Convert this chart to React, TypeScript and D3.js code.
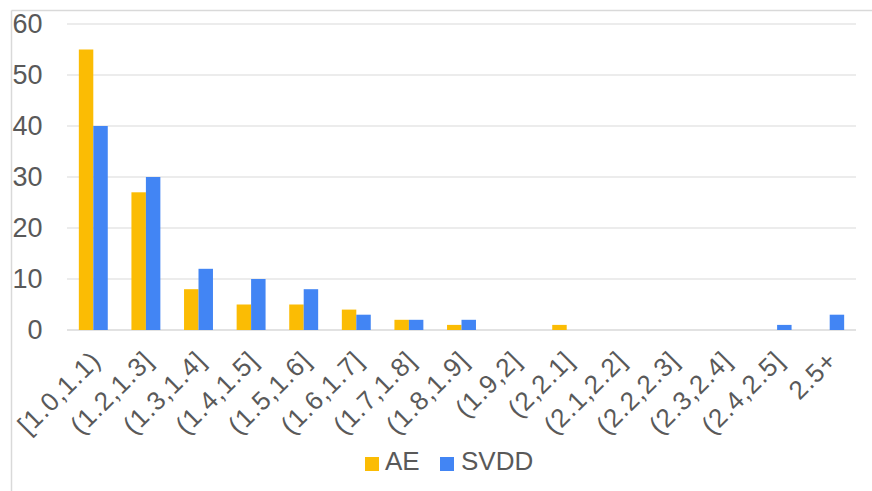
import React from "react";
import * as d3 from "d3";

const categories = ["[1.0,1.1)", "(1.2,1.3]", "(1.3,1.4]", "(1.4,1.5]", "(1.5,1.6]", "(1.6,1.7]", "(1.7,1.8]", "(1.8,1.9]", "(1.9,2]", "(2,2.1]", "(2.1,2.2]", "(2.2,2.3]", "(2.3,2.4]", "(2.4,2.5]", "2.5+"];
const aeValues = [55, 27, 8, 5, 5, 4, 2, 1, 0, 1, 0, 0, 0, 0, 0];
const svddValues = [40, 30, 12, 10, 8, 3, 2, 2, 0, 0, 0, 0, 0, 1, 3];
const yTicks = [0, 10, 20, 30, 40, 50, 60];
const seriesNames = ["AE", "SVDD"];
const seriesColors = ["#FBBC04", "#4285F4"];

const W = 872;
const H = 491;
const textColor = "#595959";
const font = "'Liberation Sans', Arial, sans-serif";

export default function App() {
  const x = d3.scaleBand<string>().domain(categories).range([67, 856]).paddingInner(0).paddingOuter(0);
  const y = d3.scaleLinear().domain([0, 60]).range([330, 24]);
  const bw = x.bandwidth();
  const barW = bw * 0.275;
  const series = [aeValues, svddValues];

  return (
    <svg width={W} height={H} style={{ position: "absolute", left: 0, top: 0, background: "#fff" }}>
      <rect x={0} y={0} width={W} height={H} fill="#fff" />
      {/* frame */}
      <line x1={11.5} y1={10.5} x2={W} y2={10.5} stroke="#d9d9d9" strokeWidth={1.5} />
      <line x1={11.5} y1={10.5} x2={11.5} y2={H} stroke="#d9d9d9" strokeWidth={1.5} />
      {/* gridlines */}
      {yTicks.map((t) => (
        <line key={t} x1={67} x2={856} y1={y(t)} y2={y(t)} stroke="#d9d9d9" strokeWidth={t === 0 ? 1.5 : 1.2} />
      ))}
      {/* y tick labels */}
      {yTicks.map((t) => (
        <text key={"l" + t} x={42.5} y={y(t) - 1} dy="0.36em" textAnchor="end" fontFamily={font} fontSize={27} fill={textColor}>
          {t}
        </text>
      ))}
      {/* bars */}
      {categories.map((c, i) => {
        const cx = (x(c) as number) + bw / 2;
        return series.map((vals, s) => (
          <rect
            key={c + s}
            x={cx - barW + s * barW}
            y={y(vals[i])}
            width={barW}
            height={y(0) - y(vals[i])}
            fill={seriesColors[s]}
          />
        ));
      })}
      {/* x labels */}
      {categories.map((c) => {
        const cx = (x(c) as number) + bw / 2;
        return (
          <text
            key={"x" + c}
            transform={`translate(${cx + 9},${362}) rotate(-45)`}
            textAnchor="end"
            fontFamily={font}
            fontSize={26}
            letterSpacing={1}
            fill={textColor}
          >
            {c}
          </text>
        );
      })}
      {/* legend */}
      <rect x={365} y={457} width={14} height={14} fill={seriesColors[0]} />
      <text x={385} y={470} fontFamily={font} fontSize={26} fill={textColor}>{seriesNames[0]}</text>
      <rect x={440} y={457} width={14} height={14} fill={seriesColors[1]} />
      <text x={461} y={470} fontFamily={font} fontSize={26} fill={textColor}>{seriesNames[1]}</text>
    </svg>
  );
}
